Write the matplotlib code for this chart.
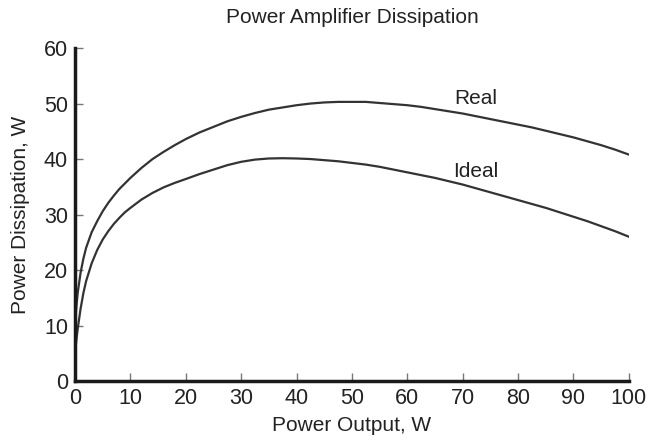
import matplotlib
matplotlib.use("Agg")
import matplotlib.pyplot as plt

plt.rcParams['font.family'] = ['Liberation Sans', 'DejaVu Sans']

power_out = [0, 0.25, 0.5, 1, 1.5, 2, 3, 4, 5, 6, 7, 8, 9, 10, 12, 14, 16, 18,
             20, 22.5, 25, 27.5, 30, 32.5, 35, 37.5, 40, 42.5, 45, 47.5, 50,
             52.5, 55, 57.5, 60, 62.5, 65, 67.5, 70, 72.5, 75, 77.5, 80, 82.5,
             85, 87.5, 90, 92.5, 95, 97.5, 100]
real = [10, 13.5, 16, 19.5, 22, 24, 26.8, 28.8, 30.6, 32.1, 33.4, 34.6, 35.6,
        36.6, 38.4, 40, 41.3, 42.5, 43.6, 44.8, 45.8, 46.8, 47.6, 48.3, 48.9,
        49.3, 49.7, 50.0, 50.2, 50.3, 50.3, 50.3, 50.1, 49.9, 49.7, 49.4, 49.0,
        48.6, 48.2, 47.7, 47.2, 46.7, 46.2, 45.7, 45.1, 44.5, 43.9, 43.2, 42.5,
        41.7, 40.8]
ideal = [5, 7.5, 9.5, 13, 15.8, 18, 21.2, 23.6, 25.5, 27, 28.3, 29.4, 30.4,
         31.2, 32.7, 33.9, 34.9, 35.7, 36.4, 37.3, 38.1, 38.9, 39.5, 39.9, 40.1,
         40.15, 40.1, 40.0, 39.8, 39.6, 39.3, 39.0, 38.6, 38.1, 37.6, 37.1, 36.6,
         36.0, 35.4, 34.7, 34.0, 33.3, 32.6, 31.9, 31.2, 30.4, 29.6, 28.8, 27.9,
         27.0, 26]

x_ticks = [0, 10, 20, 30, 40, 50, 60, 70, 80, 90, 100]
y_ticks = [0, 10, 20, 30, 40, 50, 60]

fig = plt.figure(figsize=(6.49, 4.45), dpi=100)
ax = fig.add_axes([0.1156, 0.1438, 0.8534, 0.7482])

line_color = '#333333'
ax.plot(power_out, real, color=line_color, lw=1.6)
ax.plot(power_out, ideal, color=line_color, lw=1.6)

ax.text(72.4, 51.0, 'Real', fontsize=15, color='#222222', ha='center', va='center')
ax.text(72.4, 37.8, 'Ideal', fontsize=15, color='#222222', ha='center', va='center')

ax.set_xlim(0, 100)
ax.set_ylim(0, 60)
ax.set_xticks(x_ticks)
ax.set_yticks(y_ticks)
ax.tick_params(direction='in', length=6, width=1, color='#777777',
               labelsize=15.5, labelcolor='#222222', pad=5)

for s in ['top', 'right']:
    ax.spines[s].set_visible(False)
for s in ['left', 'bottom']:
    ax.spines[s].set_linewidth(2.5)
    ax.spines[s].set_color('#1a1a1a')

ax.set_title('Power Amplifier Dissipation', fontsize=15, color='#222222', pad=18)
ax.set_xlabel('Power Output, W', fontsize=15, color='#222222', labelpad=5)
ax.set_ylabel('Power Dissipation, W', fontsize=15, color='#222222', labelpad=10)

fig.savefig('out.png', dpi=100)
